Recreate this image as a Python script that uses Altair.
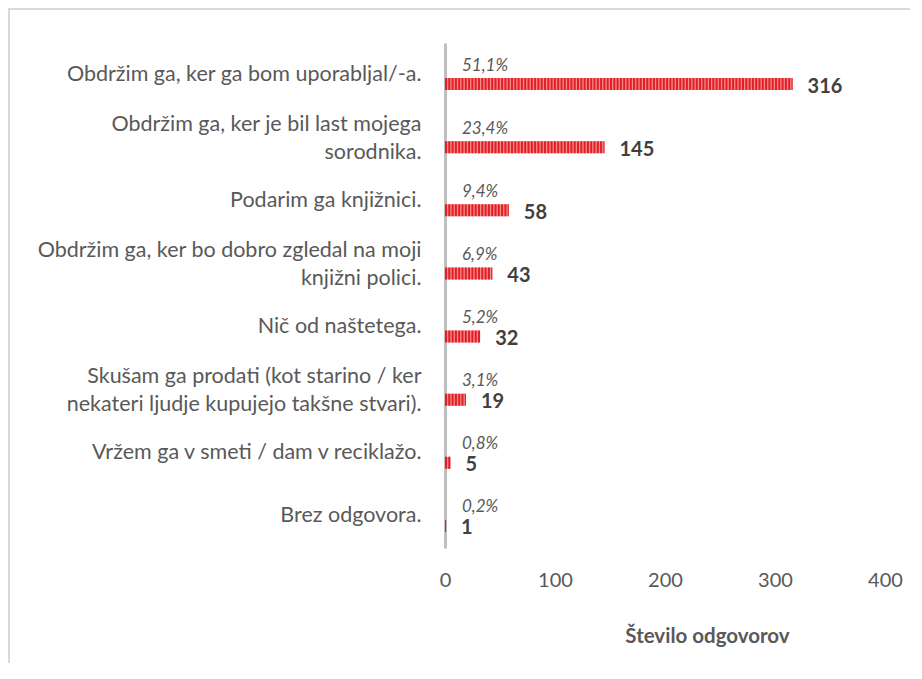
import altair as alt
import pandas as pd

categories = [
    "Obdržim ga, ker ga bom uporabljal/-a.",
    "Obdržim ga, ker je bil last mojega|sorodnika.",
    "Podarim ga knjižnici.",
    "Obdržim ga, ker bo dobro zgledal na moji|knjižni polici.",
    "Nič od naštetega.",
    "Skušam ga prodati (kot starino / ker|nekateri ljudje kupujejo takšne stvari).",
    "Vržem ga v smeti / dam v reciklažo.",
    "Brez odgovora.",
]
counts = [316, 145, 58, 43, 32, 19, 5, 1]
percents = ["51,1%", "23,4%", "9,4%", "6,9%", "5,2%", "3,1%", "0,8%", "0,2%"]
x_ticks = [0, 100, 200, 300, 400]

df = pd.DataFrame({"cat": categories, "n": counts, "pct": percents, "zero": [0] * len(counts)})

FONT = "Lato"
GREY = "#595959"

y_enc = alt.Y(
    "cat:N",
    sort=categories,
    scale=alt.Scale(paddingInner=0, paddingOuter=0),
    axis=alt.Axis(
        title=None,
        labelExpr="split(datum.label, '|')",
        labelFont=FONT,
        labelFontSize=21.5,
        labelColor=GREY,
        labelLineHeight=28,
        labelPadding=24,
        labelLimit=500,
        labelOffset={"condition": {"test": "indexof(datum.value, '|') >= 0", "value": -13}, "value": 0},
        ticks=False,
        domainColor="#bfbfbf",
        domainWidth=3,
        labelBaseline="middle",
    ),
)

x_enc = alt.X(
    "n:Q",
    scale=alt.Scale(domain=[0, 400], nice=False),
    axis=alt.Axis(
        values=x_ticks,
        title="Število odgovorov",
        titleFont=FONT,
        titleFontSize=20.5,
        titleFontWeight="bold",
        titleColor=GREY,
        titlePadding=36,
        titleX=262,
        titleAnchor="start",
        titleAlign="center",
        labelFont=FONT,
        labelFontSize=20,
        labelColor=GREY,
        labelPadding=22,
        labelFlush=False,
        ticks=False,
        domain=False,
        grid=False,
    ),
)

base = alt.Chart(df)

bars = base.mark_bar(size=12, yOffset=9.5, color="#f28b8e").encode(x=x_enc, y=y_enc)

stripes = base.mark_rule(
    yOffset=9.5, strokeWidth=12, color="#e31e24", strokeDash=[2, 1.3]
).encode(x=alt.X("zero:Q"), x2="n:Q", y=alt.Y("cat:N", sort=categories))

pct_text = base.mark_text(
    align="left", baseline="middle", dx=17, dy=-9, font=FONT, fontSize=17,
    fontStyle="italic", color=GREY
).encode(x=alt.X("zero:Q"), y=alt.Y("cat:N", sort=categories), text="pct:N")

num_text = base.mark_text(
    align="left", baseline="middle", dx=15, dy=12, font=FONT, fontSize=20,
    fontWeight="bold", color="#404040"
).encode(x=alt.X("n:Q"), y=alt.Y("cat:N", sort=categories), text="n:Q")

border_top = base.mark_rule(color="#d9d9d9", strokeWidth=1.5, clip=False).encode(
    x=alt.value(-440), x2=alt.value(470), y=alt.value(-34)
)
border_left = base.mark_rule(color="#d9d9d9", strokeWidth=1.5, clip=False).encode(
    x=alt.value(-436), y=alt.value(-34), y2=alt.value(620)
)

chart = (
    alt.layer(bars, stripes, pct_text, num_text, border_top, border_left)
    .properties(
        width=440,
        height=505,
        autosize=alt.AutoSizeParams(type="none"),
        padding={"left": 437, "top": 35, "right": 25, "bottom": 115},
    )
    .configure_view(stroke=None)
)

chart.save("out.html", embed_options={"renderer": "svg", "actions": False})
